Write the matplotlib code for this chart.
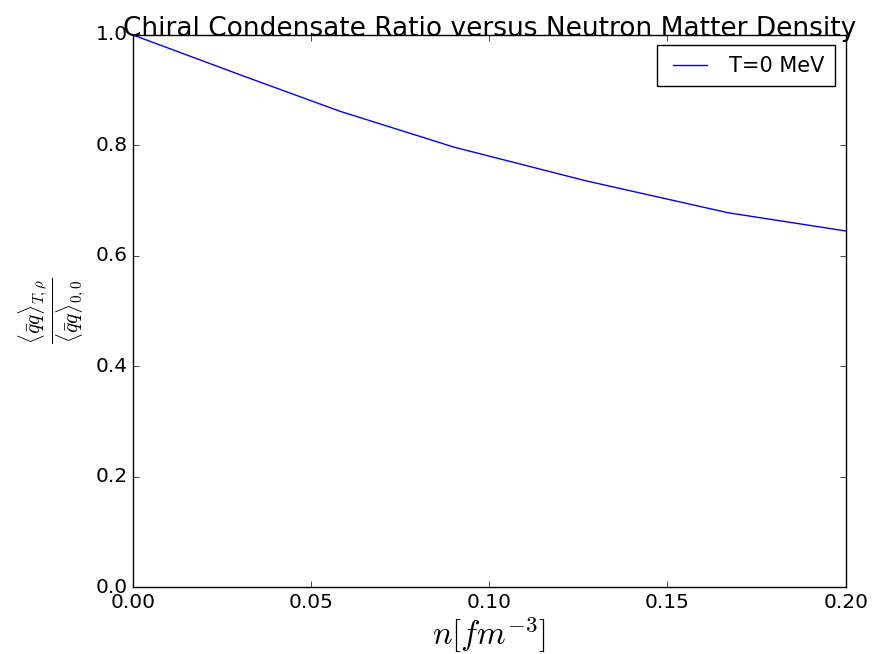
import numpy as np
import matplotlib
matplotlib.use('Agg')
from matplotlib import pyplot as plt

# neutron matter density [fm^-3] and condensate ratio at T=0
density = [0.0, 0.03, 0.058, 0.09, 0.127, 0.167, 0.2]
ratio = [1.0, 0.928, 0.862, 0.797, 0.736, 0.678, 0.645]
label = 'T=0 MeV'

plt.style.use('classic')
plt.rcParams['mathtext.fontset'] = 'cm'

fig = plt.figure(figsize=(8.82, 6.54), dpi=100, facecolor='white')
axes = fig.add_axes([0.1508, 0.1024, 0.808, 0.8441])
axes.plot(density, ratio, 'b-', label=label)
axes.set_xlim(0, 0.2)
axes.set_ylim(0, 1.0)
axes.set_xticks([0, 0.05, 0.10, 0.15, 0.20])
axes.set_yticks([0, 0.2, 0.4, 0.6, 0.8, 1.0])
axes.tick_params(labelsize=14.5)
axes.set_title('Chiral Condensate Ratio versus Neutron Matter Density', fontsize=19, y=0.985)
axes.set_xlabel(r'$n[fm^{-3}]$', fontsize=23.5, labelpad=2)
axes.set_ylabel(r'$\frac{\langle\bar{q}q\rangle_{T,\rho}}{\langle\bar{q}q\rangle_{0,0}}$', fontsize=22)
axes.legend(loc='upper right', fontsize=15, handlelength=2.2, borderpad=0.5)

plt.savefig('out.png', dpi=100, facecolor='white')
